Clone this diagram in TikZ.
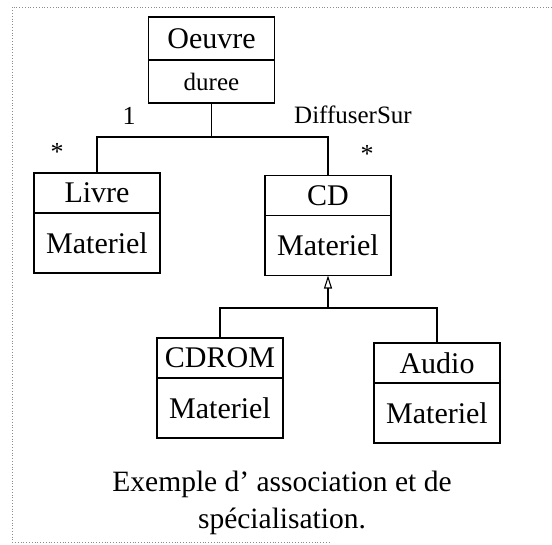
\documentclass[tikz,border=0pt]{standalone}
\usepackage{fontspec}
\setmainfont{Liberation Serif}
\usetikzlibrary{positioning, arrows.meta}

\begin{document}
\begin{tikzpicture}[
        x=1pt, y=-1pt,
        line width=1.1pt,
        clsbox/.style={rectangle, draw=black, minimum width=126pt,
                       minimum height=40pt, inner sep=2pt, outer sep=0pt,
                       font=\fontsize{30}{32}\selectfont},
        attrbox/.style={clsbox, minimum height=60pt},
        mult/.style={font=\fontsize{26}{28}\selectfont, inner sep=0pt},
        inherit/.style={-{Triangle[open, length=13pt, width=8pt]}},
        frame/.style={draw=black!45, dotted, line width=0.8pt},
    ]
    \useasboundingbox (0,0) rectangle (552,544);
    % 外框
    \draw[frame] (552,7) -- (12,7) -- (12,542) -- (330,542);

    % 顶部：Oeuvre
    \node[clsbox, minimum height=43pt] (oeuvre) at (211.5,38.5) {Oeuvre};
    \node[attrbox, minimum height=43pt, font=\fontsize{25}{27}\selectfont,
          below=0pt of oeuvre] (oeuvreA) {duree};

    % 中间：Livre 与 CD
    \node[clsbox] (livre) at (97,193) {Livre};
    \node[attrbox, below=0pt of livre] (livreA) {Materiel};
    \node[clsbox] (cd) at (328,195.5) {CD};
    \node[attrbox, below=0pt of cd] (cdA) {Materiel};

    % 底部：CDROM 与 Audio
    \node[clsbox] (cdrom) at (220,358) {CDROM};
    \node[attrbox, below=0pt of cdrom] (cdromA) {Materiel};
    \node[clsbox] (audio) at (437,363) {Audio};
    \node[attrbox, below=0pt of audio] (audioA) {Materiel};

    % 关联 DiffuserSur
    \coordinate (j1) at (211.5,137);
    \draw (oeuvreA.south) -- (j1);
    \draw (livre.north) |- (j1) -| (cd.north);
    \node[mult] (m1) at (129,116) {1};
    \node[mult] (ms1) at (57,152) {*};
    \node[mult] (ms2) at (367,154) {*};
    \node[font=\fontsize{25}{27}\selectfont] (assoc) at (353,115) {DiffuserSur};

    % 特化
    \coordinate (j2) at (328,308);
    \draw[inherit] (j2) -- (cdA.south);
    \draw (cdrom.north) |- (j2) -| (audio.north);

    % 图注
    \node[align=center, font=\fontsize{29.5}{37}\selectfont] (caption) at (282,503)
        {Exemple d' association et de\\spécialisation.};
\end{tikzpicture}
\end{document}
